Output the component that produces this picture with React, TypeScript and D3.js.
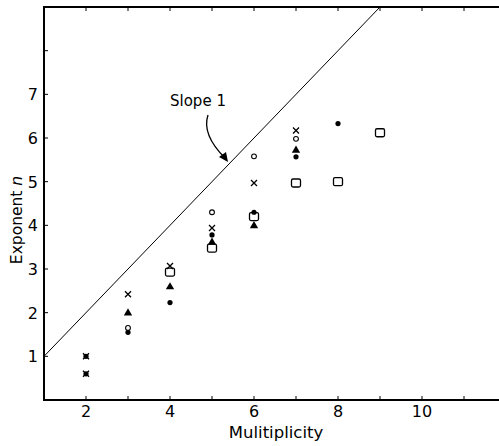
import React from "react";
import * as d3 from "d3";

// Data (multiplicity m, exponent n)
const crossM = [2, 2, 3, 4, 5, 6, 7];
const crossN = [1.0, 0.6, 2.42, 3.07, 3.94, 4.97, 6.17];
const openCircleM = [3, 5, 6, 7];
const openCircleN = [1.65, 4.3, 5.58, 5.98];
const triangleM = [3, 4, 5, 6, 7];
const triangleN = [2.0, 2.6, 3.62, 4.0, 5.73];
const filledCircleM = [2, 2, 3, 4, 5, 6, 7, 8];
const filledCircleN = [1.0, 0.6, 1.55, 2.23, 3.78, 4.3, 5.57, 6.33];
const squareM = [4, 5, 6, 7, 8, 9];
const squareN = [2.93, 3.48, 4.2, 4.97, 5.0, 6.12];

const xTicks = [2, 3, 4, 5, 6, 7, 8, 9, 10, 11];
const xTickLabels = [2, 4, 6, 8, 10];
const yTicks = [1, 2, 3, 4, 5, 6, 7, 8];
const yTickLabels = [1, 2, 3, 4, 5, 6, 7];
const slopeLine = [
  [1, 1],
  [9, 9],
];

const W = 499;
const H = 446;

export default function App() {
  const x = d3.scaleLinear().domain([1, 12]).range([44, 506]);
  const y = d3.scaleLinear().domain([0, 9]).range([400, 7]);
  const font = "'DejaVu Sans', sans-serif";
  const line = d3
    .line<number[]>()
    .x((d) => x(d[0]))
    .y((d) => y(d[1]));
  const tri = d3.symbol().type(d3.symbolTriangle).size(30)() as string;

  const cross = (cx: number, cy: number, r: number) =>
    `M${cx - r},${cy - r}L${cx + r},${cy + r}M${cx - r},${cy + r}L${cx + r},${cy - r}`;

  return (
    <div style={{ position: "absolute", left: 0, top: 0 }}>
      <svg width={W} height={H} style={{ display: "block", background: "#fff" }}>
        {/* frame */}
        <line x1={x(1)} y1={y(0)} x2={x(1)} y2={y(9)} stroke="#000" strokeWidth={2} />
        <line x1={x(1) - 1} y1={y(0)} x2={W} y2={y(0)} stroke="#000" strokeWidth={2} />
        <line x1={x(1) - 1} y1={y(9)} x2={W} y2={y(9)} stroke="#000" strokeWidth={2} />
        {/* x ticks */}
        {xTicks.map((t) => (
          <g key={"xt" + t}>
            <line x1={x(t)} x2={x(t)} y1={y(0)} y2={y(0) - 4} stroke="#000" strokeWidth={1} />
            <line x1={x(t)} x2={x(t)} y1={y(9)} y2={y(9) + 4} stroke="#000" strokeWidth={1} />
          </g>
        ))}
        {xTickLabels.map((t) => (
          <text
            key={"xl" + t}
            x={x(t)}
            y={y(0) + 17}
            textAnchor="middle"
            fontFamily={font}
            fontSize={16}
          >
            {t}
          </text>
        ))}
        {/* y ticks */}
        {yTicks.map((t) => (
          <line key={"yt" + t} x1={x(1)} x2={x(1) + 4} y1={y(t)} y2={y(t)} stroke="#000" strokeWidth={1} />
        ))}
        {yTickLabels.map((t) => (
          <text
            key={"yl" + t}
            x={x(1) - 6}
            y={y(t) + 6}
            textAnchor="end"
            fontFamily={font}
            fontSize={16}
          >
            {t}
          </text>
        ))}
        {/* axis titles */}
        <text x={276} y={438} textAnchor="middle" fontFamily={font} fontSize={16.5}>
          Mulitiplicity
        </text>
        <text
          transform={`translate(22,220) rotate(-90)`}
          textAnchor="middle"
          fontFamily={font}
          fontSize={15.5}
        >
          Exponent <tspan fontStyle="italic">n</tspan>
        </text>
        {/* slope line */}
        <path d={line(slopeLine as number[][]) as string} fill="none" stroke="#000" strokeWidth={1} />
        <text x={170} y={106} fontFamily={font} fontSize={15}>
          Slope 1
        </text>
        <path d="M208,115 C203,130 212,145 225,158" fill="none" stroke="#000" strokeWidth={1.3} />
        <path d="M228,162 L219,157 L226,152 Z" fill="#000" />
        {/* markers */}
        {squareM.map((m, i) => (
          <rect
            key={"sq" + i}
            x={x(m) - 4.5}
            y={y(squareN[i]) - 4}
            width={9}
            height={8}
            rx={1.5}
            fill="#fff"
            stroke="#000"
            strokeWidth={1.3}
          />
        ))}
        {filledCircleM.map((m, i) => (
          <circle key={"fc" + i} cx={x(m)} cy={y(filledCircleN[i])} r={2.6} fill="#000" />
        ))}
        {openCircleM.map((m, i) => (
          <circle
            key={"oc" + i}
            cx={x(m)}
            cy={y(openCircleN[i])}
            r={2.4}
            fill="#fff"
            stroke="#000"
            strokeWidth={1.1}
          />
        ))}
        {triangleM.map((m, i) => (
          <path
            key={"tr" + i}
            d={tri}
            transform={`translate(${x(m)},${y(triangleN[i]) + 0.5})`}
            fill="#000"
          />
        ))}
        {crossM.map((m, i) => (
          <path
            key={"cr" + i}
            d={cross(x(m), y(crossN[i]), 3)}
            stroke="#000"
            strokeWidth={1.3}
            fill="none"
          />
        ))}
      </svg>
    </div>
  );
}
